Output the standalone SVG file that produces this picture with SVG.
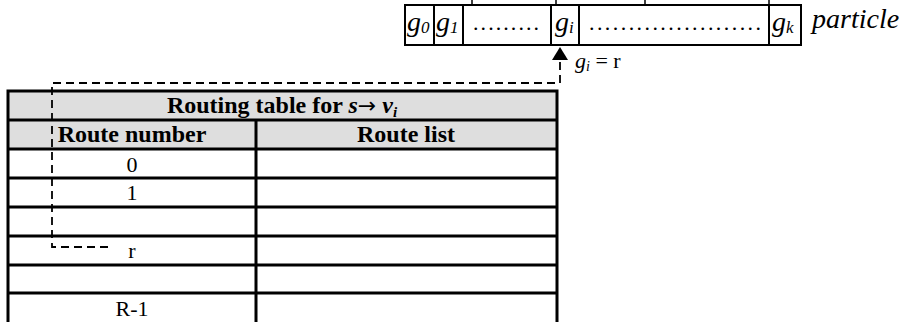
<svg xmlns="http://www.w3.org/2000/svg" width="901" height="322" viewBox="0 0 901 322">
  <style>
    .cell { fill: #ffffff; stroke: #000000; stroke-width: 2; }
    .grid { stroke: #000000; stroke-width: 3; fill: none; }
    .hdr { fill: #dedede; stroke: none; }
    .g { font-family: "Liberation Serif", "Times New Roman", serif; font-style: italic; font-size: 28px; fill: #000; }
    .sub { font-size: 17px; }
    .dots { font-family: "Liberation Serif", "Times New Roman", serif; font-size: 22px; fill: #000; }
    .hb { font-family: "Liberation Serif", "Times New Roman", serif; font-weight: bold; font-size: 24px; fill: #000; }
    .td { font-family: "Liberation Serif", "Times New Roman", serif; font-size: 22px; fill: #000; }
    .lbl { font-family: "Liberation Serif", "Times New Roman", serif; font-size: 22px; fill: #000; }
    .arrowglyph { font-family: "DejaVu Sans", sans-serif; font-weight: normal; font-size: 22px; }
    .link { fill: none; stroke: #000000; stroke-width: 1.8; stroke-dasharray: 8 5; }
  </style>
  <defs>
    <marker id="tri" markerUnits="userSpaceOnUse" viewBox="0 0 13 16" refX="13" refY="8" markerWidth="13" markerHeight="16" orient="auto">
      <path d="M0,0 L13,8 L0,16 Z" fill="#000000"/>
    </marker>
  </defs>

  <!-- particle: one gene per cell -->
  <g id="particle">
    <g stroke="#000" stroke-width="1.5">
      <line x1="472" y1="0" x2="472" y2="5"/>
      <line x1="556" y1="0" x2="556" y2="5"/>
      <line x1="645" y1="0" x2="645" y2="5"/>
      <line x1="769" y1="0" x2="769" y2="5"/>
    </g>
    <rect class="cell" x="405" y="5" width="29" height="40"/>
    <rect class="cell" x="434" y="5" width="29" height="40"/>
    <rect class="cell" x="463" y="5" width="88" height="40"/>
    <rect class="cell" x="551" y="5" width="28" height="40"/>
    <rect class="cell" x="579" y="5" width="190" height="40"/>
    <rect class="cell" x="769" y="5" width="32" height="40"/>
    <text class="g" x="407" y="31">g<tspan class="sub" dy="2">0</tspan></text>
    <text class="g" x="436" y="31">g<tspan class="sub" dy="2">1</tspan></text>
    <text class="dots" x="473" y="30" textLength="66" lengthAdjust="spacing">.........</text>
    <text class="g" x="555" y="31">g<tspan class="sub" dy="2">i</tspan></text>
    <text class="dots" x="589" y="30" textLength="172" lengthAdjust="spacing">......................</text>
    <text class="g" x="772" y="31">g<tspan class="sub" dy="2">k</tspan></text>
    <text class="g" x="812" y="28">particle</text>
  </g>

  <!-- routing table -->
  <g id="routing-table">
    <rect class="hdr" x="8" y="91" width="549" height="58"/>
    <path class="grid" d="M8,322 V91 H557 V322 M8,120 H557 M8,149 H557 M8,178 H557 M8,207 H557 M8,236 H557 M8,265 H557 M8,293 H557 M256,120 V322"/>
    <text class="hb" x="282" y="113" text-anchor="middle">Routing table for <tspan font-style="italic">s</tspan><tspan class="arrowglyph">→</tspan> <tspan font-style="italic">v</tspan><tspan font-size="15" dy="4" font-style="italic">i</tspan></text>
    <text class="hb" x="132" y="142" text-anchor="middle">Route number</text>
    <text class="hb" x="406" y="142" text-anchor="middle">Route list</text>
    <text class="td" x="132" y="172" text-anchor="middle">0</text>
    <text class="td" x="132" y="200" text-anchor="middle">1</text>
    <text class="td" x="132" y="258" text-anchor="middle">r</text>
    <text class="td" x="132" y="316" text-anchor="middle">R-1</text>
  </g>

  <!-- dashed link from row r up to gene g_i -->
  <g id="connectors">
    <path class="link" d="M108,247 H52 V83 H560 V47" marker-end="url(#tri)"/>
    <text class="lbl" x="575" y="68"><tspan font-style="italic">g</tspan><tspan font-size="14" dy="3" font-style="italic">i</tspan><tspan dy="-3"> = r</tspan></text>
  </g>
</svg>
